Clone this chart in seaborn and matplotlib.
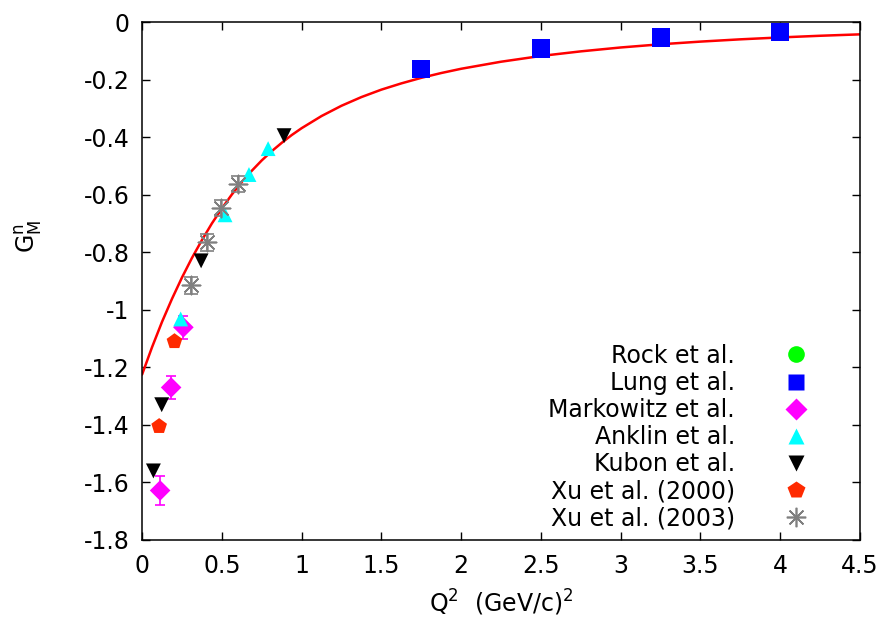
import matplotlib
matplotlib.use("Agg")
import matplotlib.pyplot as plt
from matplotlib.lines import Line2D
import seaborn as sns

# ---- data ----
rock_q2, rock_g = [], []
lung_q2 = [1.75, 2.5, 3.25, 4.0]
lung_g = [-0.164, -0.092, -0.054, -0.036]
mark_q2 = [0.113, 0.182, 0.259]
mark_g = [-1.628, -1.27, -1.061]
mark_err = [0.05, 0.039, 0.04]
ank_q2 = [0.242, 0.52, 0.67, 0.79]
ank_g = [-1.032, -0.67, -0.53, -0.44]
kub_q2 = [0.071, 0.123, 0.37, 0.89]
kub_g = [-1.56, -1.33, -0.83, -0.395]
xu00_q2 = [0.107, 0.203]
xu00_g = [-1.405, -1.11]
xu03_q2 = [0.305, 0.405, 0.495, 0.60]
xu03_g = [-0.915, -0.766, -0.647, -0.563]
xu03_err = [0.029, 0.03, 0.028, 0.027]

curve_q2 = [0, 0.0625, 0.125, 0.1875, 0.25, 0.3125, 0.375, 0.4375, 0.5,
            0.5625, 0.625, 0.6875, 0.75, 0.8125, 0.875, 0.9375, 1.0, 1.125,
            1.25, 1.375, 1.5, 1.625, 1.75, 1.875, 2.0, 2.25, 2.5, 2.75, 3.0,
            3.25, 3.5, 3.75, 4.0, 4.25, 4.5]
curve_g = [-1.225, -1.130, -1.042, -0.962, -0.888, -0.820, -0.758, -0.700,
           -0.648, -0.5995, -0.556, -0.517, -0.481, -0.449, -0.420, -0.393,
           -0.369, -0.3267, -0.291, -0.2608, -0.235, -0.2133, -0.194,
           -0.1773, -0.1625, -0.138, -0.118, -0.102, -0.0885, -0.0774,
           -0.0681, -0.0602, -0.0536, -0.0478, -0.0429]

xticks = [0, 0.5, 1, 1.5, 2, 2.5, 3, 3.5, 4, 4.5]
yticks = [0, -0.2, -0.4, -0.6, -0.8, -1, -1.2, -1.4, -1.6, -1.8]
labels = ["Rock et al.", "Lung et al.", "Markowitz et al.", "Anklin et al.",
          "Kubon et al.", "Xu et al. (2000)", "Xu et al. (2003)"]

sns.set_style("ticks")
plt.rcParams["font.family"] = ["DejaVu Sans"]
plt.rcParams["axes.unicode_minus"] = False
plt.rcParams["mathtext.default"] = "regular"
plt.rcParams["text.color"] = "black"
plt.rcParams["axes.labelcolor"] = "black"
plt.rcParams["xtick.color"] = "black"
plt.rcParams["ytick.color"] = "black"
FS = 17

fig = plt.figure(figsize=(8.88, 6.27), dpi=100)
ax = fig.add_axes([0.160, 0.1388, 0.8085, 0.8261])

ast = (8, 2, 0)
GRAY = "#808080"
RED = "#ff2a00"

sns.lineplot(x=curve_q2, y=curve_g, ax=ax, color="#ff0000", lw=1.8,
             estimator=None, sort=False, zorder=2)

# error bars
ax.errorbar(mark_q2, mark_g, yerr=mark_err, fmt="none", ecolor="#ff00ff",
            elinewidth=1.2, capsize=3.5, capthick=1.2, zorder=3)
ax.errorbar(xu03_q2, xu03_g, yerr=xu03_err, fmt="none", ecolor=GRAY,
            elinewidth=1.2, capsize=5, capthick=1.2, zorder=3)

sns.scatterplot(x=lung_q2, y=lung_g, ax=ax, marker="s", color="#0000ff",
                s=170, edgecolor="none", zorder=4)
sns.scatterplot(x=mark_q2, y=mark_g, ax=ax, marker="D", color="#ff00ff",
                s=110, edgecolor="none", zorder=4)
sns.scatterplot(x=ank_q2, y=ank_g, ax=ax, marker="^", color="#00ffff",
                s=115, edgecolor="none", zorder=4)
sns.scatterplot(x=kub_q2, y=kub_g, ax=ax, marker="v", color="black",
                s=115, edgecolor="none", zorder=4)
sns.scatterplot(x=xu00_q2, y=xu00_g, ax=ax, marker="p", color=RED,
                s=140, edgecolor="none", zorder=4)
ax.scatter(xu03_q2, xu03_g, marker=ast, s=170, color=GRAY, linewidths=1.2,
           zorder=4)

ax.set_xlim(0, 4.5)
ax.set_ylim(-1.8, 0)
ax.set_xticks(xticks)
ax.set_xticklabels(["%g" % v for v in xticks])
ax.set_yticks(yticks)
ax.set_yticklabels(["%g" % v for v in yticks])
ax.tick_params(axis="both", direction="in", length=5.5, width=1.0,
               top=True, right=True, labelsize=FS, colors="black")
ax.tick_params(axis="x", pad=10)
ax.tick_params(axis="y", pad=9)
for sp in ax.spines.values():
    sp.set_visible(True)
    sp.set_linewidth(1.1)
    sp.set_color("black")

ax.set_xlabel("$Q^2$  (GeV/c)$^2$", fontsize=FS, color="black")
ax.xaxis.set_label_coords(0.5, -0.092)
ax.set_ylabel("$G_M^n$", fontsize=FS, color="black")
ax.yaxis.set_label_coords(-0.136, 0.587)

handles = [
    Line2D([], [], ls="none", marker="o", color="#00ff00", ms=12, mec="none"),
    Line2D([], [], ls="none", marker="s", color="#0000ff", ms=12, mec="none"),
    Line2D([], [], ls="none", marker="D", color="#ff00ff", ms=11, mec="none"),
    Line2D([], [], ls="none", marker="^", color="#00ffff", ms=12, mec="none"),
    Line2D([], [], ls="none", marker="v", color="black", ms=12, mec="none"),
    Line2D([], [], ls="none", marker="p", color=RED, ms=13, mec="none"),
    Line2D([], [], ls="none", marker=ast, color=GRAY, ms=14, mew=1.2),
]
leg = ax.legend(handles, labels, loc="lower right",
                bbox_to_anchor=(0.944, 0.019), frameon=False,
                markerfirst=False, fontsize=FS, handlelength=2.0,
                handletextpad=1.6, labelspacing=0.13, borderpad=0,
                borderaxespad=0, labelcolor="black")

fig.savefig("out.png", dpi=100)
